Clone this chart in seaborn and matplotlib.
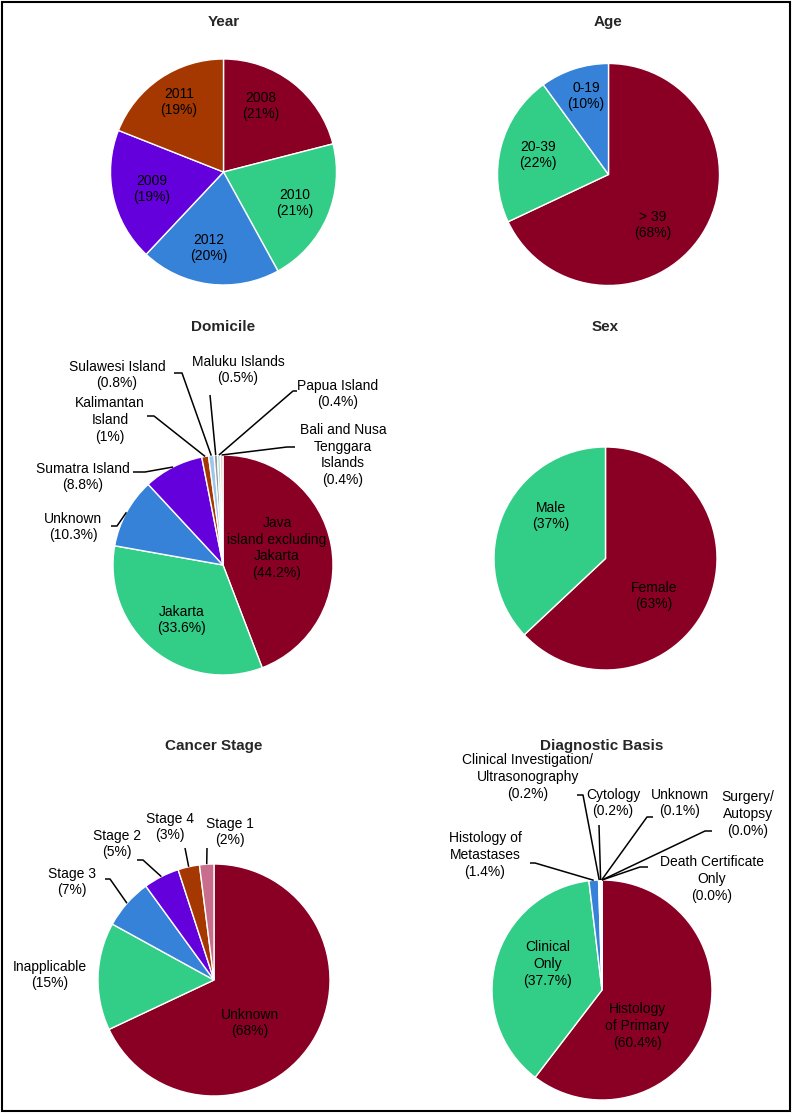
import matplotlib
matplotlib.use("Agg")
import matplotlib.pyplot as plt
from matplotlib.patches import Rectangle
import numpy as np
import seaborn as sns

# Canvas size in pixels (dpi 100)
W, H = 792, 1113

# Data
year_names = ["2008", "2010", "2012", "2009", "2011"]
year_values = [21, 21, 20, 19, 19]

age_names = ["> 39", "20-39", "0-19"]
age_values = [68, 22, 10]

domicile_names = ["Java\nisland excluding\nJakarta", "Jakarta", "Unknown", "Sumatra Island",
                  "Kalimantan\nIsland", "Sulawesi Island", "Maluku Islands", "Papua Island",
                  "Bali and Nusa\nTenggara\nIslands"]
domicile_values = [44.2, 33.6, 10.3, 8.8, 1, 0.8, 0.5, 0.4, 0.4]

sex_names = ["Female", "Male"]
sex_values = [63, 37]

stage_names = ["Unknown", "Inapplicable", "Stage 3", "Stage 2", "Stage 4", "Stage 1"]
stage_values = [68, 15, 7, 5, 3, 2]

basis_names = ["Histology\nof Primary", "Clinical\nOnly", "Histology of\nMetastases",
               "Clinical Investigation/\nUltrasonography", "Cytology", "Unknown",
               "Surgery/\nAutopsy", "Death Certificate\nOnly"]
basis_values = [60.4, 37.7, 1.4, 0.2, 0.2, 0.1, 0.0, 0.0]

# Colours
MAROON, GREEN, BLUE, PURPLE, BROWN = "#8A0024", "#32CD87", "#3582D8", "#6400DC", "#A53700"
year_colors = sns.color_palette([MAROON, GREEN, BLUE, PURPLE, BROWN])
age_colors = sns.color_palette([MAROON, GREEN, BLUE])
domicile_colors = sns.color_palette([MAROON, GREEN, BLUE, PURPLE, BROWN,
                                     "#9DC6EA", "#8E9AA8", "#9FE0BE", "#F2C4CE"])
sex_colors = sns.color_palette([MAROON, GREEN])
stage_colors = sns.color_palette([MAROON, GREEN, BLUE, PURPLE, BROWN, "#C86E8C"])
basis_colors = sns.color_palette([MAROON, GREEN, BLUE, "#D5C6F2", "#F2C4CE", "#E8E8F8",
                                  "#DDDDDD", "#DDDDDD"])

# Layout (pixel positions measured from top-left)
year_label_xy = [(261, 106), (295, 203), (209, 248), (152, 189), (179, 102)]
age_label_xy = [(653, 225), (538, 155), (586, 96)]
sex_label_xy = [(654, 596), (551, 516)]
domicile_label_xy = [(277, 548), (182, 620), (73, 527), (83, 477), (110, 420),
                     (117, 375), (238, 370), (338, 394), (343, 455)]
domicile_leaders = [None, None, ((117, 526), (111, 526)), ((145, 472), (133, 472)),
                    ((154, 416), (147, 416)), ((182, 373), (174, 373)), ((210, 395), None),
                    ((293, 391), (297, 391)), ((287, 447), (295, 447))]
stage_label_xy = [(250, 1023), (50, 975), (72, 882), (117, 844), (170, 827), (230, 832)]
stage_leaders = [None, None, ((110, 879), (105, 879)), ((143, 860), (137, 860)),
                 ((185, 848), None), ((207, 848), None)]
basis_label_xy = [(637, 1026), (548, 964), (485, 855), (528, 777), (613, 803),
                  (680, 803), (748, 814), (712, 879)]
basis_leaders = [None, None, ((535, 863), (530, 863)), ((583, 795), (577, 795)),
                 ((599, 825), None), ((647, 817), (653, 817)), ((705, 831), (712, 831)),
                 ((640, 867), (648, 867))]

sns.set_theme(style="white")
plt.rcParams["font.family"] = ["Liberation Sans", "DejaVu Sans"]

fig = plt.figure(figsize=(W / 100, H / 100), dpi=100)
ax = fig.add_axes([0, 0, 1, 1])


def draw_pie(title, values, names, colors, center, radius, label_xy, fmt, leaders=None, title_y=22):
    cx, cy = center
    ax.pie(values, colors=colors, center=(cx, H - cy), radius=radius, startangle=90,
           counterclock=False, wedgeprops=dict(edgecolor="white", linewidth=1))
    ax.text(cx, H - title_y, title, ha="center", va="center", fontsize=11, fontweight="bold")

    vals = np.array(values, dtype=float)
    start = np.concatenate([[0], np.cumsum(vals)[:-1]])
    mid = np.deg2rad(90 - 360 * (start + vals / 2) / vals.sum())

    for i, (name, v) in enumerate(zip(names, values)):
        tx, ty = label_xy[i]
        ax.text(tx, H - ty, f"{name}\n({fmt.format(v)}%)", ha="center", va="center",
                fontsize=10, linespacing=1.25, color="black")
        if leaders and leaders[i]:
            elbow, stub = leaders[i]
            xs = [cx + radius * np.cos(mid[i]), elbow[0]]
            ys = [H - cy + radius * np.sin(mid[i]), H - elbow[1]]
            if stub:
                xs.append(stub[0])
                ys.append(H - stub[1])
            ax.plot(xs, ys, color="black", lw=1.1, solid_capstyle="butt")


draw_pie("Year", year_values, year_names, year_colors, (223.5, 172), 113, year_label_xy, "{:g}")
draw_pie("Age", age_values, age_names, age_colors, (608.5, 174.5), 111, age_label_xy, "{:g}")
draw_pie("Domicile", domicile_values, domicile_names, domicile_colors, (223, 565), 110,
         domicile_label_xy, "{:g}", domicile_leaders, title_y=327)
draw_pie("Sex", sex_values, sex_names, sex_colors, (605.5, 558.5), 111.5, sex_label_xy,
         "{:g}", title_y=327)
draw_pie("Cancer Stage", stage_values, stage_names, stage_colors, (214, 980), 116,
         stage_label_xy, "{:g}", stage_leaders, title_y=746)
draw_pie("Diagnostic Basis", basis_values, basis_names, basis_colors, (602, 990), 110,
         basis_label_xy, "{:.1f}", basis_leaders, title_y=746)

ax.set_xlim(0, W)
ax.set_ylim(0, H)
ax.set_aspect("equal")
ax.axis("off")

# Frame around the whole figure
fig.patches.append(Rectangle((0.003, 0.002), 0.994, 0.996, transform=fig.transFigure,
                             fill=False, edgecolor="black", linewidth=1.5))

fig.savefig("out.png", dpi=100)
